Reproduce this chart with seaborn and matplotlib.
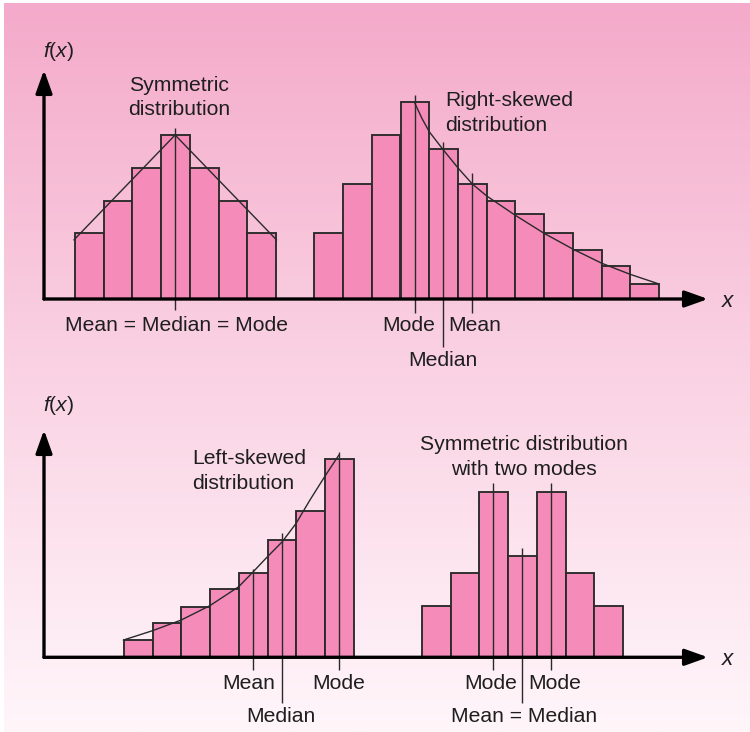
import numpy as np
import matplotlib
matplotlib.use("Agg")
import matplotlib.pyplot as plt
from matplotlib.colors import LinearSegmentedColormap
import seaborn as sns

# bar centres (bin units) and heights (frequency units)
sym_x = [1.57, 2.57, 3.57, 4.57, 5.57, 6.57, 7.57]
sym_h = [4, 6, 8, 10, 8, 6, 4]
sym_line_x = [1.04, 4.56, 8.09]
sym_line_y = [3.6, 10.0, 3.6]

rskew_x = [9.9, 10.9, 11.9, 12.9, 13.9, 14.9, 15.9, 16.9, 17.9, 18.9, 19.9, 20.9]
rskew_h = [4, 7, 10, 12, 9.15, 7, 6, 5.2, 4, 3, 2, 0.9]
rskew_curve_x = [12.9, 13.15, 13.4, 13.89, 14.41, 14.9, 15.4, 16.38, 17.39, 18.41, 19.4, 20.38, 21.4]
rskew_curve_y = [11.93, 11.0, 10.2, 9.09, 7.97, 7.01, 6.28, 5.12, 4.01, 3.03, 2.18, 1.51, 0.91]

lskew_x = [3.28, 4.28, 5.28, 6.28, 7.28, 8.28, 9.28, 10.28]
lskew_h = [1.05, 2.07, 3.09, 4.16, 5.12, 7.15, 8.94, 12.09]
lskew_curve_x = [2.76, 3.77, 4.77, 5.77, 6.77, 7.28, 7.77, 8.29, 8.77, 9.25, 9.76, 10.26]
lskew_curve_y = [1.05, 1.62, 2.27, 3.15, 4.30, 5.22, 6.13, 7.05, 8.17, 9.59, 11.01, 12.34]

bimod_x = [13.64, 14.64, 15.64, 16.64, 17.64, 18.64, 19.64]
bimod_h = [3.1, 5.15, 10.1, 6.15, 10.1, 5.15, 3.1]

# marker lines: x, top, bottom
top_marks_x = [4.56, 12.9, 13.89, 14.9]
top_marks_top = [10.43, 12.44, 9.59, 7.66]
top_marks_bot = [-0.67, -0.85, -2.91, -0.85]
bot_marks_x = [7.28, 8.27, 10.27, 15.63, 17.63, 16.62]
bot_marks_top = [5.38, 7.56, 12.54, 10.61, 10.61, 6.68]
bot_marks_bot = [-0.77, -2.80, -0.77, -0.77, -0.77, -2.77]

BAR = "#F48BB8"
EDGE = "#2a2a2a"
INK = "#1e1e1e"
FS = 15.2

sns.set_theme(style="white")
plt.rcParams["font.family"] = ["Liberation Sans", "DejaVu Sans"]
plt.rcParams["mathtext.fontset"] = "custom"
plt.rcParams["mathtext.it"] = "Liberation Sans:italic"
plt.rcParams["mathtext.rm"] = "Liberation Sans"

fig = plt.figure(figsize=(7.5, 7.32), dpi=100)

# pink gradient background
bg = fig.add_axes([0.005, 0, 0.995, 0.996])
cmap = LinearSegmentedColormap.from_list("pinkfade", ["#F4AACA", "#FAD2E3", "#FFF6FA"])
bg.imshow(np.linspace(0, 1, 256)[:, None], aspect="auto", cmap=cmap, extent=[0, 1, 0, 1])
bg.axis("off")

ax_top = fig.add_axes([44 / 750, (732 - 299) / 732, 664 / 750, 229 / 732])
ax_bot = fig.add_axes([44 / 750, (732 - 657.3) / 732, 664 / 750, 227.3 / 732])


def bars(ax, xs, hs):
    sns.barplot(x=xs, y=hs, native_scale=True, width=1, color=BAR, saturation=1,
                edgecolor=EDGE, linewidth=1.35, errorbar=None, ax=ax)


def frame(ax, ytop):
    ax.set_xlim(0, 664 / 28.75)
    ax.set_ylim(0, ytop)
    ax.axis("off")
    arrow = dict(arrowstyle="-|>,head_length=0.7,head_width=0.25", color="black",
                 lw=2.4, shrinkA=0, shrinkB=0, mutation_scale=20)
    ax.annotate("", xy=(0, 1), xytext=(0, 0), xycoords="axes fraction", arrowprops=arrow)
    ax.annotate("", xy=(1, 0), xytext=(0, 0), xycoords="axes fraction", arrowprops=arrow)
    ax.text(23.76, -0.15, "x", style="italic", fontsize=FS + 1, color=INK, ha="center", va="center")


def label(ax, x, y, s, ha="center"):
    ax.text(x, y, s, fontsize=FS, color=INK, ha=ha, va="center", linespacing=1.37)


# top panel
bars(ax_top, sym_x, sym_h)
bars(ax_top, rskew_x, rskew_h)
sns.lineplot(x=sym_line_x, y=sym_line_y, sort=False, estimator=None, color=EDGE, lw=1.0, ax=ax_top)
sns.lineplot(x=rskew_curve_x, y=rskew_curve_y, sort=False, estimator=None, color=EDGE, lw=1.0, ax=ax_top)
ax_top.vlines(top_marks_x, top_marks_bot, top_marks_top, color=EDGE, lw=1.0, clip_on=False)
frame(ax_top, 229 / 16.4)
ax_top.text(0.52, 15.08, "$f(x)$", fontsize=FS, color=INK, ha="center", va="center")
label(ax_top, 4.69, 12.29, "Symmetric\ndistribution")
label(ax_top, 4.62, -1.59, "Mean = Median = Mode")
label(ax_top, 13.95, 11.34, "Right-skewed\ndistribution", ha="left")
label(ax_top, 12.7, -1.59, "Mode")
label(ax_top, 14.98, -1.59, "Mean")
label(ax_top, 13.86, -3.72, "Median")

# bottom panel
bars(ax_bot, lskew_x, lskew_h)
bars(ax_bot, bimod_x, bimod_h)
sns.lineplot(x=lskew_curve_x, y=lskew_curve_y, sort=False, estimator=None, color=EDGE, lw=1.0, ax=ax_bot)
ax_bot.vlines(bot_marks_x, bot_marks_bot, bot_marks_top, color=EDGE, lw=1.0, clip_on=False)
frame(ax_bot, 227.3 / 16.4)
ax_bot.text(0.52, 15.38, "$f(x)$", fontsize=FS, color=INK, ha="center", va="center")
label(ax_bot, 5.14, 11.37, "Left-skewed\ndistribution", ha="left")
label(ax_bot, 7.12, -1.59, "Mean")
label(ax_bot, 8.24, -3.62, "Median")
label(ax_bot, 10.24, -1.59, "Mode")
label(ax_bot, 16.7, 12.23, "Symmetric distribution\nwith two modes")
label(ax_bot, 15.54, -1.59, "Mode")
label(ax_bot, 17.77, -1.59, "Mode")
label(ax_bot, 16.69, -3.62, "Mean = Median")

fig.savefig("out.png", dpi=100)
